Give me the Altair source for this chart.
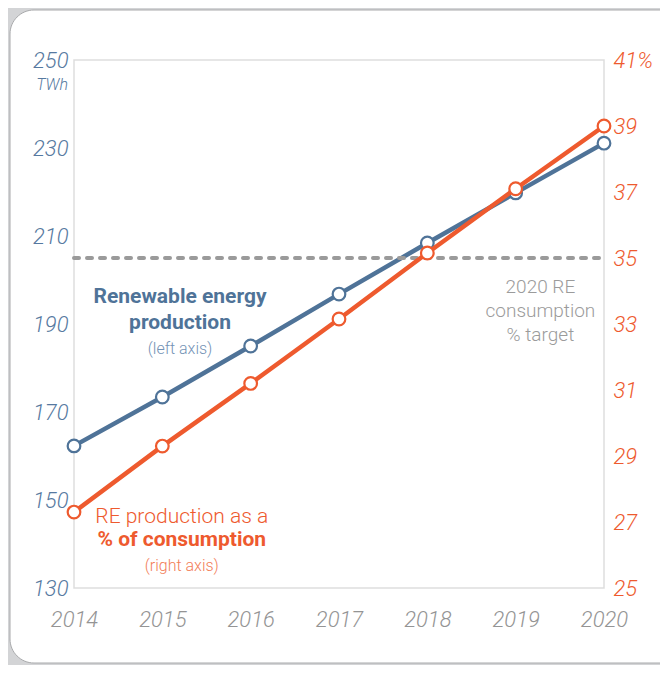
import altair as alt
import pandas as pd

# ---- data ----
years = [2014, 2015, 2016, 2017, 2018, 2019, 2020]
production_twh = [162.3, 173.4, 185.0, 196.8, 208.4, 219.8, 231.1]   # left axis
share_pct = [27.3, 29.3, 31.2, 33.15, 35.15, 37.1, 39.0]            # right axis
target_pct = 35
left_ticks = [130, 150, 170, 190, 210, 230, 250]
right_ticks = [25, 27, 29, 31, 33, 35, 37, 39, 41]

ann_blue_bold = ["Renewable energy", "production"]
ann_blue_bold_y = [196.1, 190.2]
ann_blue_small = ["(left axis)"]
ann_blue_small_y = [184.3]
ann_gray = ["2020 RE", "consumption", "% target"]
ann_gray_y = [198.4, 193.0, 187.5]
ann_orange_reg = ["RE production as a"]
ann_orange_reg_y = [146.1]
ann_orange_bold = ["% of consumption"]
ann_orange_bold_y = [140.9]
ann_orange_small = ["(right axis)"]
ann_orange_small_y = [135.0]

BLUE = "#4f7398"
BLUE_LT = "#7392b5"
ORANGE = "#ee5a2e"
ORANGE_LT = "#f27d57"
GRAY = "#9b9b9b"
FONT = "Roboto, Lato, sans-serif"

W, H = 530, 528

df = pd.DataFrame({"year": years, "twh": production_twh, "pct": share_pct})

x_scale = alt.Scale(domain=[2014, 2020], nice=False, zero=False)
x_axis = alt.Axis(values=years, format="d", title=None, labelFontSize=22,
                  labelFontStyle="italic", labelFontWeight=300, labelColor="#949494",
                  labelPadding=21, labelFlush=False,
                  labelFont=FONT, domain=False, ticks=False, grid=False, zindex=1)

left_scale = alt.Scale(domain=[130, 250], nice=False, zero=False)
left_axis = alt.Axis(values=left_ticks, title=None, labelFontSize=22, labelFontStyle="italic",
                     labelFontWeight=300, labelColor="#5679a0", labelPadding=6, labelFont=FONT,
                     domain=False, ticks=False, grid=False, orient="left", zindex=1)
right_scale = alt.Scale(domain=[25, 41], nice=False, zero=False)
right_axis = alt.Axis(values=right_ticks, title=None, labelFontSize=22, labelFontStyle="italic",
                      labelFontWeight=300, labelColor=ORANGE, labelPadding=9, labelFont=FONT,
                      domain=False, ticks=False, grid=False, orient="right", zindex=1,
                      labelExpr="datum.value == 41 ? '41%' : datum.label")


def xe(field):
    return alt.X(field, scale=x_scale, axis=x_axis)


def yl(field):
    return alt.Y(field, scale=left_scale, axis=left_axis)


def yr(field):
    return alt.Y(field, scale=right_scale, axis=right_axis)


one = pd.DataFrame({"a": [0]})

panel = alt.Chart(one).mark_rect(fill="white", stroke="#a9aaac", strokeWidth=1,
                                 cornerRadius=24).encode(
    x=alt.value(-64), x2=alt.value(640), y=alt.value(-50), y2=alt.value(603))

frame = alt.Chart(one).mark_rect(fill=None, stroke="#dedede", strokeWidth=1.5).encode(
    x=alt.value(0), x2=alt.value(W), y=alt.value(0), y2=alt.value(H))

twh = alt.Chart(one).mark_text(text="TWh", align="right", baseline="middle", fontSize=16,
                               fontStyle="italic", fontWeight=300, font=FONT,
                               color="#5679a0").encode(
    x=alt.value(-6), y=alt.value(25))

blue_line = alt.Chart(df).mark_line(color=BLUE, strokeWidth=4.5).encode(x=xe("year:Q"), y=yl("twh:Q"))
blue_pts = alt.Chart(df).mark_point(shape="circle", fill="white", fillOpacity=1, opacity=1,
                                    stroke=BLUE, strokeWidth=2.2, size=160).encode(
    x=xe("year:Q"), y=yl("twh:Q"))


def text_layer(labels, ys, xval, color, size, weight=300):
    d = pd.DataFrame({"label": labels, "twh": ys, "year": [xval] * len(labels)})
    return alt.Chart(d).mark_text(color=color, fontSize=size, fontWeight=weight, font=FONT,
                                  align="center", baseline="middle").encode(
        x=xe("year:Q"), y=yl("twh:Q"), text="label:N")


t1 = text_layer(ann_blue_bold, ann_blue_bold_y, 2015.2, BLUE, 21, "bold")
t2 = text_layer(ann_blue_small, ann_blue_small_y, 2015.2, BLUE_LT, 16)
t3 = text_layer(ann_gray, ann_gray_y, 2019.28, GRAY, 19)
t4 = text_layer(ann_orange_reg, ann_orange_reg_y, 2015.22, ORANGE, 21)
t5 = text_layer(ann_orange_bold, ann_orange_bold_y, 2015.22, ORANGE, 21, "bold")
t6 = text_layer(ann_orange_small, ann_orange_small_y, 2015.22, ORANGE_LT, 16)

left = alt.layer(blue_line, t1, t2, t3, t4, t5, t6, blue_pts)

tgt = pd.DataFrame({"year": [2014], "year_end": [2020], "pct": [target_pct]})
rule = alt.Chart(tgt).mark_rule(color="#9a9a9a", strokeWidth=4, strokeDash=[5, 8],
                                strokeCap="round").encode(
    x=xe("year:Q"), x2="year_end:Q", y=yr("pct:Q"))
orange_line = alt.Chart(df).mark_line(color=ORANGE, strokeWidth=4.5).encode(x=xe("year:Q"), y=yr("pct:Q"))
orange_pts = alt.Chart(df).mark_point(shape="circle", fill="white", fillOpacity=1, opacity=1,
                                      stroke=ORANGE, strokeWidth=2.2, size=160).encode(
    x=xe("year:Q"), y=yr("pct:Q"))

right = alt.layer(rule, orange_line, orange_pts)

chart = alt.layer(panel, frame, twh, left, right).resolve_scale(y="independent").properties(
    width=W, height=H,
    padding={"left": 66, "top": 52, "right": 56, "bottom": 77},
    autosize=alt.AutoSizeParams(type="none"),
    background="#d3d4d6",
).configure_view(stroke=None)

chart.save("out.html", embed_options={"renderer": "svg", "actions": False})
